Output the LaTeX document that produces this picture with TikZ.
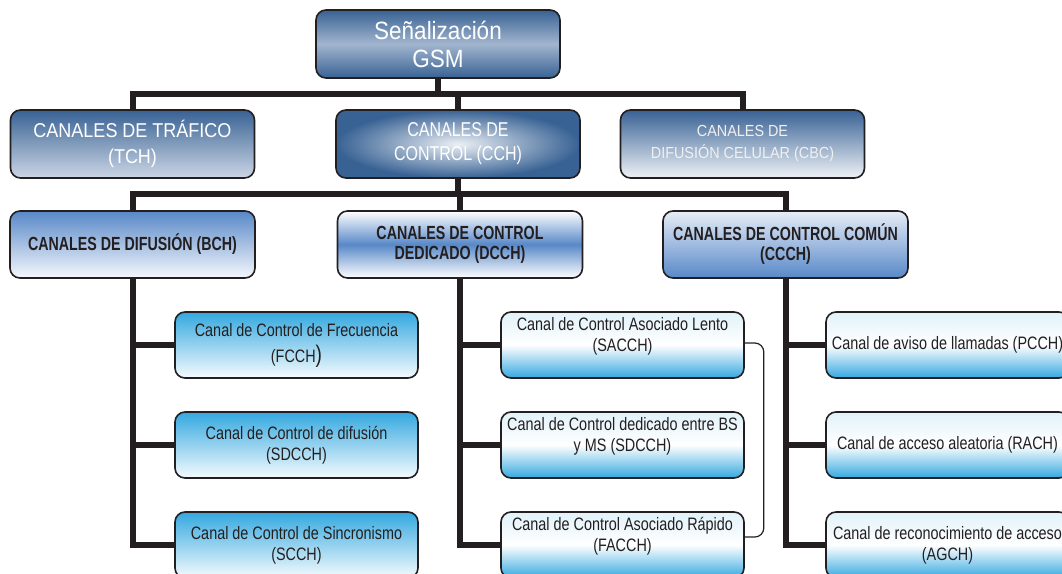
\documentclass[tikz,border=0pt]{standalone}
\usepackage{fontspec}
\setmainfont{Liberation Sans}
\newfontfamily\widefont[FakeStretch=0.9]{Liberation Sans}
\newfontfamily\narrowfont[FakeStretch=0.8]{Liberation Sans}
\newfontfamily\headfont[FakeStretch=0.75]{Liberation Sans Bold}
\usetikzlibrary{positioning, calc}
\definecolor{gsmblue}{RGB}{56,98,148}
\definecolor{gsmlight}{RGB}{162,181,206}
\definecolor{palegrey}{RGB}{204,214,229}
\definecolor{headblue}{RGB}{88,136,200}
\definecolor{leafcyan}{RGB}{52,168,224}
\definecolor{inkcolor}{RGB}{35,31,32}

% text set a little above the middle of its box
\newcommand{\liftedtext}[1]{\raisebox{8pt}[\height][\depth]{\begin{tabular}{@{}c@{}}#1\end{tabular}}}

\tikzset{
  box/.style={rectangle, rounded corners=10pt, draw=inkcolor, line width=1.6pt, inner sep=2pt, align=center},
  topbox/.style={box, minimum width=244pt, minimum height=68pt, text=white},
  headbox/.style={box, minimum width=245pt, minimum height=67pt, text=inkcolor, font=\headfont\fontsize{19}{20}\selectfont},
  leafbox/.style={box, minimum width=243pt, minimum height=66pt, text=inkcolor, font=\narrowfont\fontsize{18}{21}\selectfont},
  downleaf/.style={leafbox, top color=leafcyan, bottom color=leafcyan!5!white},
  upleaf/.style={leafbox, top color=leafcyan!15!white, bottom color=leafcyan, middle color=white},
  bus/.style={draw=inkcolor, line width=6pt},
  link/.style={draw=inkcolor, line width=1.2pt, rounded corners=9pt}
}

\begin{document}
\begin{tikzpicture}[x=1pt, y=-1pt]
    \clip (0,0) rectangle (1062,573);
    % first and second level
    \node[topbox, top color=gsmblue, bottom color=gsmblue, middle color=gsmlight, font=\widefont\fontsize{25}{28}\selectfont] (gsm) at (438,44) {Señalización\\GSM};
    \node[topbox, top color=gsmblue, bottom color=palegrey, font=\widefont\fontsize{20}{26}\selectfont] (tch) at (132.5,144) {CANALES DE TRÁFICO\\(TCH)};
    \node[topbox, inner color=gsmblue!10!white, outer color=gsmblue, font=\narrowfont\fontsize{20}{24}\selectfont] (cch) at (458,144) {CANALES DE\\CONTROL (CCH)};
    \node[topbox, top color=gsmblue, bottom color=gsmblue!8!white, text=white!94!black, font=\widefont\fontsize{16}{22}\selectfont] (cbc) at (742.5,144) {CANALES DE\\DIFUSIÓN CELULAR (CBC)};
    % third level
    \node[headbox, top color=headblue, bottom color=headblue!6!white] (bch) at (132.5,244.5) {CANALES DE DIFUSIÓN (BCH)};
    \node[headbox, top color=white, bottom color=white, middle color=headblue] (dcch) at (460,244.5) {CANALES DE CONTROL\\DEDICADO (DCCH)};
    \node[headbox, top color=headblue!15!white, bottom color=headblue] (ccch) at (785.5,244.5) {CANALES DE CONTROL COMÚN\\(CCCH)};
    % leaves
    \node[downleaf] (fcch) at (296.5,345) {Canal de Control de Frecuencia\\[5pt](FCCH{\fontsize{24}{24}\selectfont)}};
    \node[downleaf] (sdcchb) at (296.5,445) {Canal de Control de difusión\\(SDCCH)};
    \node[downleaf] (scch) at (296.5,545) {Canal de Control de Sincronismo\\(SCCH)};
    \node[upleaf] (sacch) at (622.5,345) {\liftedtext{Canal de Control Asociado Lento\\(SACCH)}};
    \node[upleaf] (sdcchd) at (622.5,445) {\liftedtext{Canal de Control dedicado entre BS\\y MS (SDCCH)}};
    \node[upleaf] (facch) at (622.5,545) {\liftedtext{Canal de Control Asociado Rápido\\(FACCH)}};
    \node[upleaf] (pcch) at (947.5,345) {Canal de aviso de llamadas (PCCH)};
    \node[upleaf] (rach) at (947.5,445) {Canal de acceso aleatoria (RACH)};
    \node[upleaf] (agch) at (947.5,545) {Canal de reconocimiento de acceso\\(AGCH)};

    % buses
    \draw[bus] (tch.north) -- ++(0,-15) coordinate (busa) -| (cbc.north);
    \draw[bus] (gsm.south) -- (gsm.south |- busa);
    \draw[bus] (cch.north) -- (cch.north |- busa);
    \draw[bus] (bch.north) -- ++(0,-16) coordinate (busb) -| (ccch.north);
    \draw[bus] (cch.south) -- (cch.south |- busb);
    \draw[bus] (dcch.north) -- (dcch.north |- busb);
    \draw[bus] (bch.south) |- (scch.west);
    \draw[bus] (fcch.west) -- (fcch.west -| bch.south);
    \draw[bus] (sdcchb.west) -- (sdcchb.west -| bch.south);
    \draw[bus] (dcch.south) |- (facch.west);
    \draw[bus] (sacch.west) -- (sacch.west -| dcch.south);
    \draw[bus] (sdcchd.west) -- (sdcchd.west -| dcch.south);
    \draw[bus] (ccch.south) |- (agch.west);
    \draw[bus] (pcch.west) -- (pcch.west -| ccch.south);
    \draw[bus] (rach.west) -- (rach.west -| ccch.south);
    % bracket between slow and fast associated channels
    \draw[link] ([yshift=2pt]sacch.east) -- ++(19,0) |- ([yshift=8pt]facch.east);
\end{tikzpicture}
\end{document}
